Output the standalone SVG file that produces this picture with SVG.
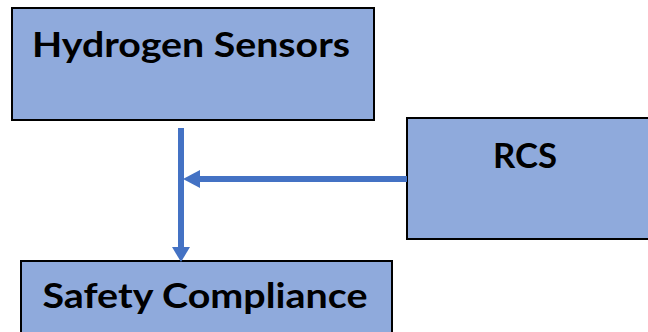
<svg xmlns="http://www.w3.org/2000/svg" width="648" height="332" viewBox="0 0 648 332">
<style>
.box{fill:#8FAADC;stroke:#000;stroke-width:2}
.lbl{font-family:"Lato","Open Sans","Liberation Sans",sans-serif;font-weight:bold;font-size:35px;fill:#000;text-anchor:middle}
.con{stroke:#4472C4;stroke-width:6;fill:none}
.head{fill:#4472C4}
</style>
<rect width="648" height="332" fill="#fff"/>
<g id="hydrogen-sensors">
<rect class="box" x="12" y="8" width="362" height="112"/>
<text class="lbl" x="191" y="57" textLength="318" lengthAdjust="spacingAndGlyphs">Hydrogen Sensors</text>
</g>
<g id="rcs">
<rect class="box" x="407" y="118" width="250" height="121"/>
<text class="lbl" x="525" y="168" textLength="64" lengthAdjust="spacingAndGlyphs">RCS</text>
</g>
<g id="safety-compliance">
<rect class="box" x="21" y="261" width="371" height="80"/>
<text class="lbl" x="205" y="308" textLength="325" lengthAdjust="spacingAndGlyphs">Safety Compliance</text>
</g>
<g id="connectors">
<line class="con" x1="181" y1="128" x2="181" y2="248"/>
<polygon class="head" points="172,247 190,247 181,262"/>
<line class="con" x1="407" y1="179" x2="199" y2="179"/>
<polygon class="head" points="200,170 200,188 183,179"/>
</g>
</svg>
